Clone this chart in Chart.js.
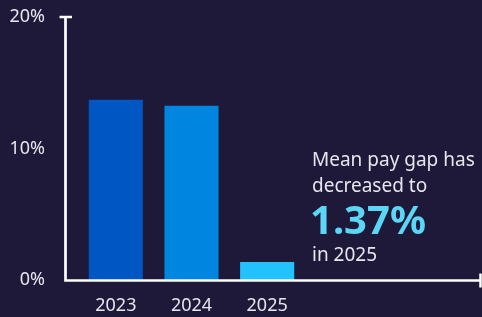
<!DOCTYPE html>
<html>
<head>
<meta charset="utf-8">
<script src="https://cdn.jsdelivr.net/npm/chart.js@4"></script>
<style>
  html, body { margin: 0; padding: 0; background: #1e1938; }
  #wrap { width: 482px; height: 317px; }
</style>
</head>
<body>
<div id="wrap"><canvas id="gapChart"></canvas></div>
<script>
const years = ['2023', '2024', '2025'];
const meanGap = [13.7, 13.25, 1.37];
const barColors = ['#0057c4', '#0085e0', '#22c2ff'];
const yTicks = [0, 10, 20];
const calloutLines = ['Mean pay gap has', 'decreased to'];
const calloutValue = '1.37%';
const calloutYear = 'in 2025';

const textColor = '#e6e6ee';
const fontFamily = '"Noto Sans", "Open Sans", sans-serif';

// axis lines with end caps + the text on the right
const decor = {
    id: 'decor',
    afterDatasetsDraw(chart) {
        const {ctx, chartArea, width} = chart;
        const ax = chartArea.left - 12.5;
        const ay = chartArea.bottom + 0.5;

        ctx.save();
        ctx.strokeStyle = '#ffffff';
        ctx.lineWidth = 2.7;
        ctx.beginPath();
        ctx.moveTo(ax, chartArea.top - 1);
        ctx.lineTo(ax, ay);
        ctx.lineTo(width - 1.5, ay);
        ctx.stroke();

        ctx.lineWidth = 2.5;
        ctx.beginPath();
        ctx.moveTo(ax - 6, chartArea.top);
        ctx.lineTo(ax + 6.5, chartArea.top);
        ctx.moveTo(width - 1.5, ay - 7);
        ctx.lineTo(width - 1.5, ay + 7);
        ctx.stroke();

        const tx = chartArea.right + 7;
        ctx.fillStyle = textColor;
        ctx.textBaseline = 'alphabetic';
        ctx.font = '19px ' + fontFamily;
        ctx.fillText(calloutLines[0], tx, 166);
        ctx.fillText(calloutLines[1], tx, 192);

        ctx.fillStyle = '#5cd6f6';
        ctx.font = 'bold 40px ' + fontFamily;
        ctx.fillText(calloutValue, tx - 2, 234);

        ctx.fillStyle = textColor;
        ctx.font = '19px ' + fontFamily;
        ctx.fillText(calloutYear, tx, 261);
        ctx.restore();
    }
};

new Chart(document.getElementById('gapChart'), {
    type: 'bar',
    data: {
        labels: years,
        datasets: [{
            label: 'Mean pay gap',
            data: meanGap,
            backgroundColor: barColors,
            categoryPercentage: 1,
            barPercentage: 0.715
        }]
    },
    options: {
        responsive: true,
        maintainAspectRatio: false,
        animation: false,
        layout: {
            padding: {top: 17, right: 177, bottom: 0, left: 0}
        },
        plugins: {
            legend: {display: false},
            tooltip: {enabled: false}
        },
        scales: {
            x: {
                afterFit(scale) {
                    scale.height = 37;
                    scale.paddingLeft = 0;
                    scale.paddingRight = 0;
                },
                grid: {display: false, drawTicks: false},
                border: {display: false},
                ticks: {
                    color: textColor,
                    padding: 15,
                    font: {family: fontFamily, size: 18}
                }
            },
            y: {
                min: 0,
                max: 20,
                afterFit(scale) {
                    scale.width = 78;
                    scale.paddingTop = 0;
                    scale.paddingBottom = 0;
                },
                afterBuildTicks(scale) {
                    scale.ticks = yTicks.map(v => ({value: v}));
                },
                grid: {display: false, drawTicks: false},
                border: {display: false},
                ticks: {
                    color: textColor,
                    padding: 33,
                    font: {family: fontFamily, size: 18},
                    callback: v => v + '%'
                }
            }
        }
    },
    plugins: [decor]
});
</script>
</body>
</html>
